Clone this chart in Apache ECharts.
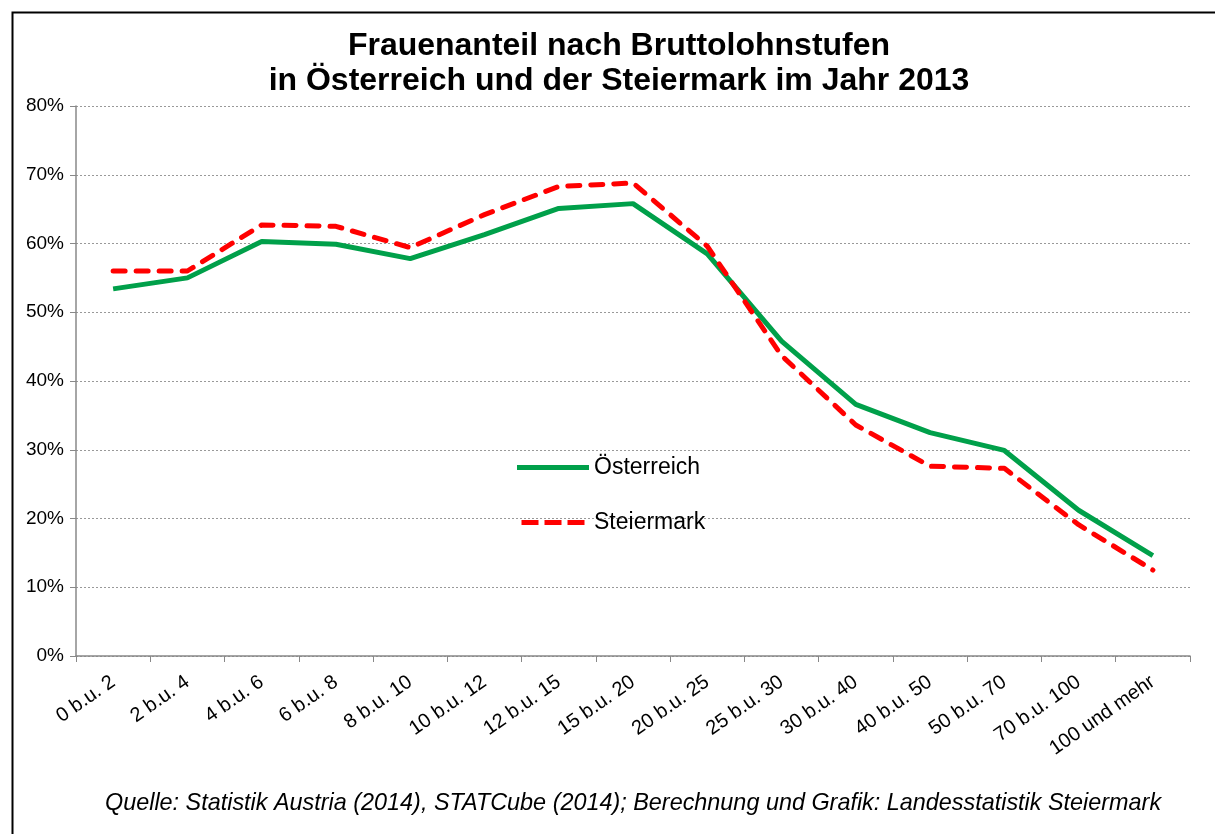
<!DOCTYPE html>
<html>
<head>
<meta charset="utf-8">
<script src="https://cdn.jsdelivr.net/npm/echarts@6/dist/echarts.min.js"></script>
<style>
  html, body { margin: 0; padding: 0; background: #fff; }
  #chart { width: 1215px; height: 834px; }
</style>
</head>
<body>
<div id="chart"></div>
<script>
var categories = ['0 b.u. 2', '2 b.u. 4', '4 b.u. 6', '6 b.u. 8', '8 b.u. 10', '10 b.u. 12', '12 b.u. 15',
  '15 b.u. 20', '20 b.u. 25', '25 b.u. 30', '30 b.u. 40', '40 b.u. 50', '50 b.u. 70', '70 b.u. 100', '100 und mehr'];
var oesterreich = [53.4, 55.0, 60.3, 59.9, 57.8, 61.3, 65.1, 65.8, 58.5, 45.8, 36.6, 32.5, 29.9, 21.2, 14.6];
var steiermark = [56.0, 56.0, 62.7, 62.5, 59.4, 64.2, 68.3, 68.8, 59.6, 43.7, 33.6, 27.6, 27.3, 19.1, 12.5];

var font = 'Arial, "Liberation Sans", sans-serif';
var chart = echarts.init(document.getElementById('chart'));

chart.setOption({
  backgroundColor: '#fff',
  animation: false,
  title: {
    text: 'Frauenanteil nach Bruttolohnstufen\nin Österreich und der Steiermark im Jahr 2013',
    left: 614,
    textAlign: 'center',
    top: 24,
    textStyle: { fontFamily: font, fontSize: 32, fontWeight: 'bold', color: '#000', lineHeight: 35 }
  },
  legend: {
    orient: 'vertical',
    left: 512,
    top: 451,
    itemWidth: 72,
    itemHeight: 5,
    itemGap: 32,
    textStyle: { fontFamily: font, fontSize: 23, color: '#000' },
    data: [
      { name: 'Österreich', icon: 'path://M0,0H72V5H0Z' },
      { name: 'Steiermark', icon: 'path://M0,0H17V5H0Z M23,0H40V5H23Z M46,0H63V5H46Z' }
    ]
  },
  grid: { left: 76, right: 25, top: 106, bottom: 178 },
  xAxis: {
    type: 'category',
    data: categories,
    boundaryGap: true,
    axisLine: { lineStyle: { color: '#888', width: 1.5 } },
    axisTick: { show: true, length: 6, lineStyle: { color: '#888' } },
    axisLabel: { rotate: 35, fontFamily: font, fontSize: 20, color: '#000', margin: 24, interval: 0 }
  },
  yAxis: {
    type: 'value',
    min: 0,
    max: 80,
    interval: 10,
    axisLine: { show: true, lineStyle: { color: '#888', width: 1.5 } },
    axisTick: { show: true, length: 6, lineStyle: { color: '#888' } },
    axisLabel: { formatter: '{value}%', fontFamily: font, fontSize: 19, color: '#000', margin: 12 },
    splitLine: { lineStyle: { color: '#999', type: [2, 2], width: 1 } }
  },
  series: [
    {
      name: 'Österreich',
      type: 'line',
      data: oesterreich,
      symbol: 'none',
      color: '#00A04A',
      lineStyle: { color: '#00A04A', width: 5 }
    },
    {
      name: 'Steiermark',
      type: 'line',
      data: steiermark,
      symbol: 'none',
      color: '#FF0000',
      lineStyle: { color: '#FF0000', width: 5, type: [12, 11], cap: 'round' }
    }
  ],
  graphic: [
    {
      type: 'rect',
      left: 10, top: 10,
      shape: { width: 1220, height: 840 },
      style: { fill: 'none', stroke: '#000', lineWidth: 2 },
      silent: true
    },
    {
      type: 'text',
      left: 105,
      top: 792,
      style: {
        text: 'Quelle: Statistik Austria (2014), STATCube (2014); Berechnung und Grafik: Landesstatistik Steiermark',
        font: 'italic 23.4px Arial, "Liberation Sans", sans-serif',
        fill: '#000'
      }
    }
  ]
});
</script>
</body>
</html>
